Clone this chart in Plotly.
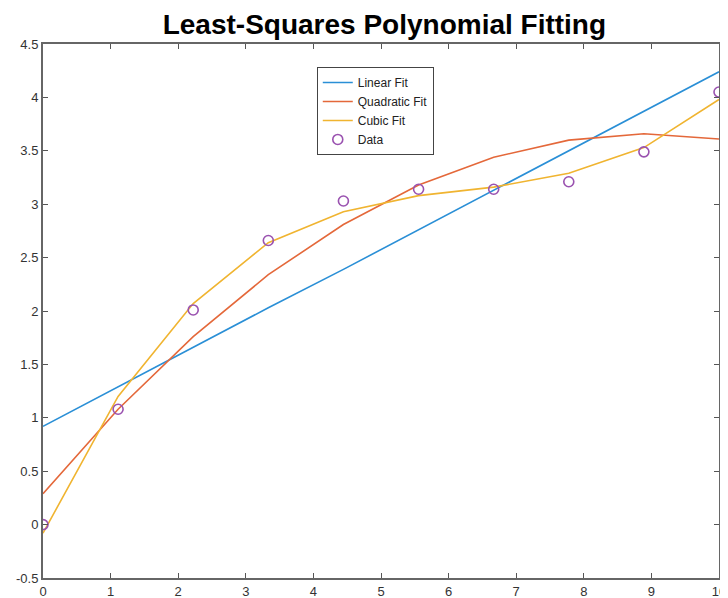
import plotly.graph_objects as go

x_data = [0, 1.111, 2.222, 3.333, 4.444, 5.556, 6.667, 7.778, 8.889, 10]
y_data = [0.0, 1.08, 2.01, 2.66, 3.03, 3.14, 3.14, 3.21, 3.49, 4.05]
y_linear = [0.92, 1.29, 1.66, 2.03, 2.39, 2.76, 3.13, 3.50, 3.87, 4.24]
y_quadratic = [0.29, 1.08, 1.76, 2.34, 2.81, 3.18, 3.44, 3.60, 3.66, 3.61]
y_cubic = [-0.08, 1.20, 2.07, 2.64, 2.93, 3.08, 3.16, 3.29, 3.53, 3.98]

x_ticks = list(range(0, 11))
y_ticks = [-0.5, 0, 0.5, 1, 1.5, 2, 2.5, 3, 3.5, 4, 4.5]
y_tick_text = ["-0.5", "0", "0.5", "1", "1.5", "2", "2.5", "3", "3.5", "4", "4.5"]

fig = go.Figure()
fig.add_trace(go.Scatter(x=x_data, y=y_linear, mode="lines", name="Linear Fit",
                         line=dict(color="#2a8fd6", width=1.6)))
fig.add_trace(go.Scatter(x=x_data, y=y_quadratic, mode="lines", name="Quadratic Fit",
                         line=dict(color="#e4683a", width=1.6)))
fig.add_trace(go.Scatter(x=x_data, y=y_cubic, mode="lines", name="Cubic Fit",
                         line=dict(color="#f0b430", width=1.6)))
fig.add_trace(go.Scatter(x=x_data, y=y_data, mode="markers", name="Data",
                         marker=dict(symbol="circle-open", size=10, color="#9a52b0",
                                     line=dict(width=1.6, color="#9a52b0"))))

axis_common = dict(showgrid=False, zeroline=False, showline=True, linecolor="#666666",
                   linewidth=2, mirror="ticks", ticks="inside", ticklen=5,
                   tickcolor="#555555", tickwidth=1, automargin=False,
                   tickfont=dict(family="Liberation Sans, Arial, sans-serif", size=13, color="#333333"))

fig.update_layout(
    width=728, height=598,
    margin=dict(l=35, r=17, t=36, b=28),
    paper_bgcolor="white", plot_bgcolor="white",
    title=dict(text="<b>Least-Squares Polynomial Fitting</b>", x=0.517, xanchor="center",
               y=0.973, yanchor="middle",
               font=dict(family="Liberation Sans, Arial, sans-serif", size=28, color="black")),
    xaxis=dict(range=[0, 10], tickvals=x_ticks, **axis_common),
    yaxis=dict(range=[-0.5, 4.5], tickvals=y_ticks, ticktext=y_tick_text, **axis_common),
    legend=dict(x=0.405, y=0.957, xanchor="left", yanchor="top",
                bgcolor="white", bordercolor="#444444", borderwidth=1,
                font=dict(family="Liberation Sans, Arial, sans-serif", size=12, color="#222222"),
                tracegroupgap=0, itemwidth=30),
    showlegend=True,
)

fig.write_html("out.html")
